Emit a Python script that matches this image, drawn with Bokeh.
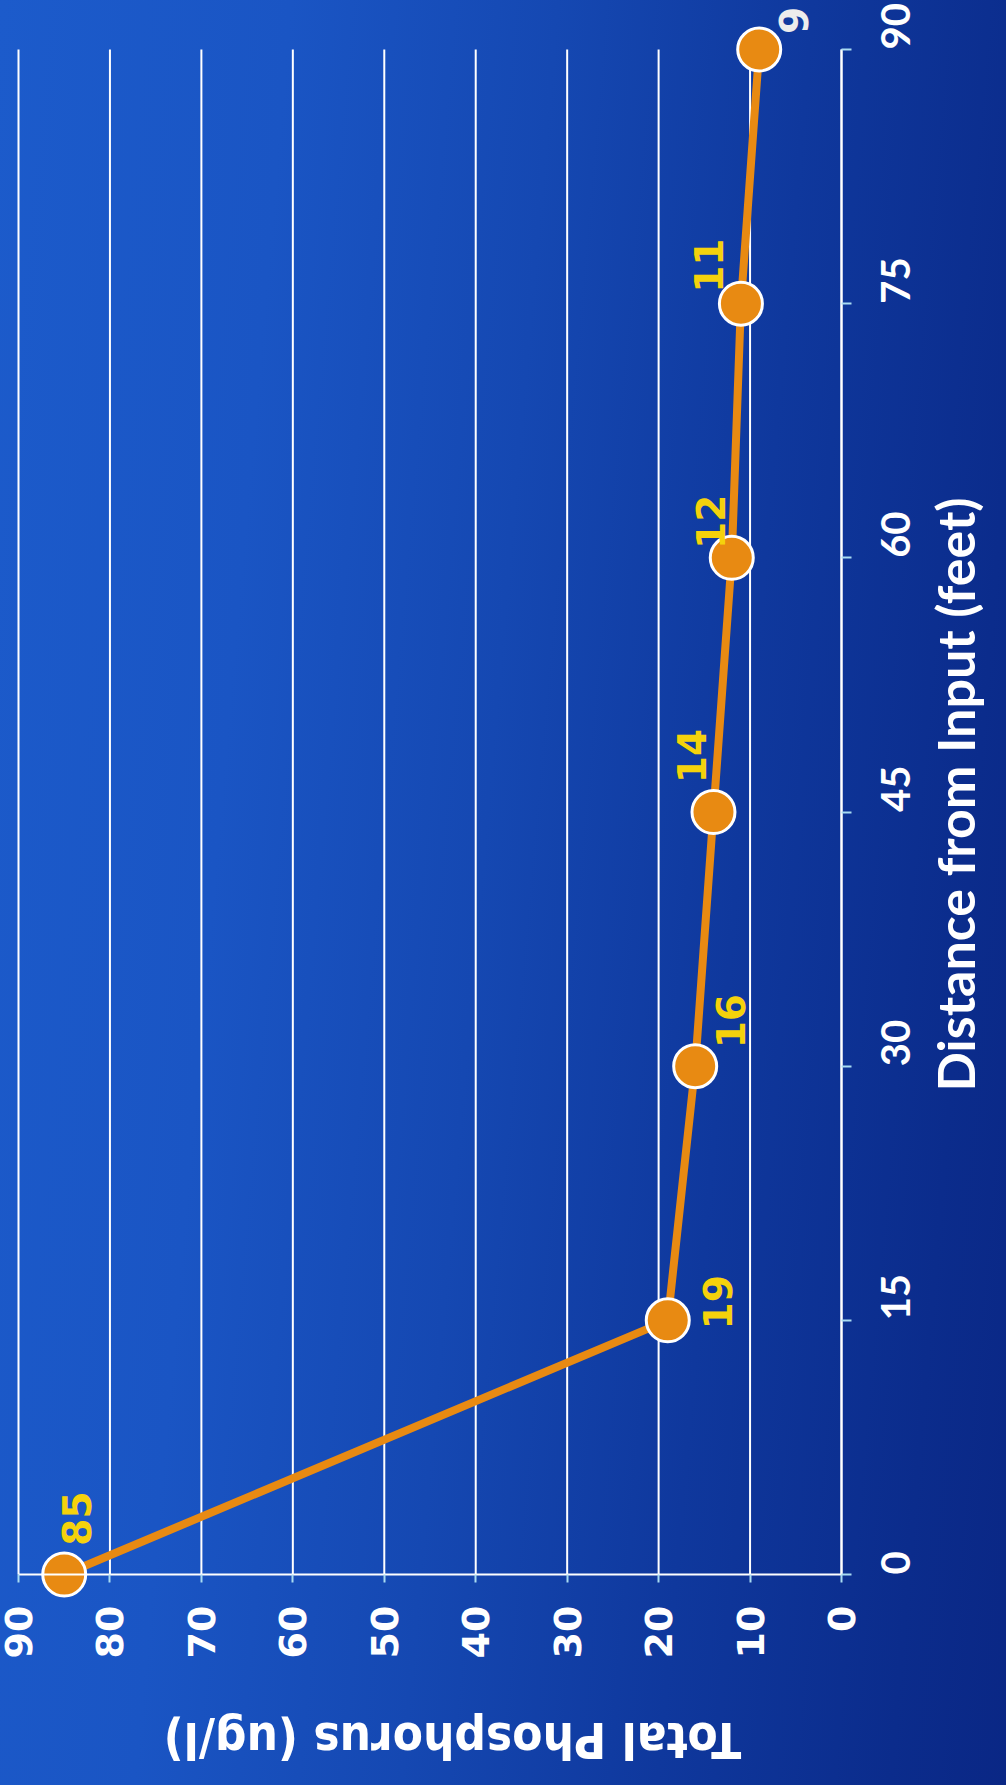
import math
from bokeh.plotting import figure
from bokeh.models import (Range1d, LinearAxis, FixedTicker, ColumnDataSource, Label,
                          GlobalInlineStyleSheet)
from bokeh.core.properties import value
from bokeh.embed import file_html
from bokeh.resources import INLINE

# ---------------- data ----------------
distance_ft = [0, 15, 30, 45, 60, 75, 90]
phosphorus_ugl = [85, 19, 16, 14, 12, 11, 9]
point_labels = ["85", "19", "16", "14", "12", "11", "9"]
phosphorus_ticks = [0, 10, 20, 30, 40, 50, 60, 70, 80, 90]
distance_ticks = [0, 15, 30, 45, 60, 75, 90]
distance_title = "Distance from Input (feet)"
phosphorus_title = "Total Phosphorus (ug/l)"

# ---------------- styling / placement ----------------
label_dx = [12, 50, 35, -22, -21, -32, 34]
label_dy = [-56, -18, -45, -56, -36, -38, -29]
label_colors = ["#f5d20c"] * 6 + ["#ececec"]

W, H = 990, 1769
# pixel geometry of the chart area inside the figure (chart is shown rotated 90 deg CCW)
px_p0, px_p90 = 841, 18        # x pixel of phosphorus 0 / 90
py_d0, py_d90 = 1574, 49       # y pixel (from top) of distance 0 / 90

p_lo, p_hi = phosphorus_ticks[0], phosphorus_ticks[-1]
d_lo, d_hi = distance_ticks[0], distance_ticks[-1]
ux = (px_p0 - px_p90) / (p_hi - p_lo)
uy = (py_d0 - py_d90) / (d_hi - d_lo)
x_start = p_hi + px_p90 / ux
x_end = p_lo - (W - px_p0) / ux
y_start = d_lo - (H - py_d0) / uy
y_end = d_hi + py_d90 / uy

p = figure(width=W, height=H, x_range=Range1d(x_start, x_end), y_range=Range1d(y_start, y_end),
           min_border=0, title=None, toolbar_location=None, output_backend="svg",
           x_axis_type=None, y_axis_type=None,
           background_fill_color=None, border_fill_color=None, outline_line_color=None)

p.stylesheets = [GlobalInlineStyleSheet(css=(
    "html { min-height: 100%; background: linear-gradient(95deg, #1c5bcb 0%, #1a55c4 25%, "
    "#1548b2 48%, #0f389d 70%, #0b2c8c 90%, #0a2785 100%) fixed; }"))]

# grid lines (vertical in the rotated view)
n = len(phosphorus_ticks)
p.segment(x0=phosphorus_ticks, y0=[d_lo] * n, x1=phosphorus_ticks, y1=[d_hi] * n,
          line_color="white", line_width=2)

# axes
phos_axis = LinearAxis(fixed_location=d_lo, ticker=FixedTicker(ticks=phosphorus_ticks),
                       bounds=(p_lo, p_hi))
dist_axis = LinearAxis(fixed_location=p_lo, ticker=FixedTicker(ticks=distance_ticks),
                       bounds=(d_lo, d_hi))
for ax in (phos_axis, dist_axis):
    ax.axis_line_color = "white"
    ax.axis_line_width = 2
    ax.major_tick_line_color = "#a9dcf2"
    ax.major_tick_line_width = 2
    ax.major_tick_in = 0
    ax.minor_tick_line_color = None
    ax.major_label_text_color = "white"
    ax.major_label_text_font_style = "bold"
    ax.major_label_orientation = math.pi / 2

phos_axis.major_tick_out = 8
phos_axis.major_label_standoff = 23
phos_axis.major_label_text_font = "DejaVu Sans"
phos_axis.major_label_text_font_size = "38px"

dist_axis.major_tick_out = 10
dist_axis.major_label_standoff = 44
dist_axis.major_label_text_font = "Lato"
dist_axis.major_label_text_font_size = "40px"

p.add_layout(phos_axis, "below")
p.add_layout(dist_axis, "right")

# series
p.line(phosphorus_ugl, distance_ft, line_color="#e88a12", line_width=8)
p.scatter(phosphorus_ugl, distance_ft, size=43, fill_color="#e88a12",
          line_color="white", line_width=3)

src = ColumnDataSource(dict(x=phosphorus_ugl, y=distance_ft, text=point_labels,
                            dx=label_dx, dy=label_dy, color=label_colors))
p.text(x="x", y="y", text="text", x_offset="dx", y_offset="dy", text_color="color",
       angle=math.pi / 2, text_align="center", text_baseline="middle",
       text_font=value("DejaVu Sans"), text_font_style="bold", text_font_size="39px",
       source=src)

# axis titles (rotated with the chart)
p.add_layout(Label(x=452, y=30, x_units="screen", y_units="screen", text=phosphorus_title,
                   angle=math.pi, text_align="center", text_baseline="middle",
                   text_color="white", text_font="DejaVu Sans Condensed, Liberation Sans",
                   text_font_style="bold", text_font_size="49px"))
p.add_layout(Label(x=954, y=975, x_units="screen", y_units="screen", text=distance_title,
                   angle=math.pi / 2, text_align="center", text_baseline="middle",
                   text_color="white", text_font="Lato",
                   text_font_style="bold", text_font_size="52px"))

open("out.html", "w").write(file_html(p, INLINE))
